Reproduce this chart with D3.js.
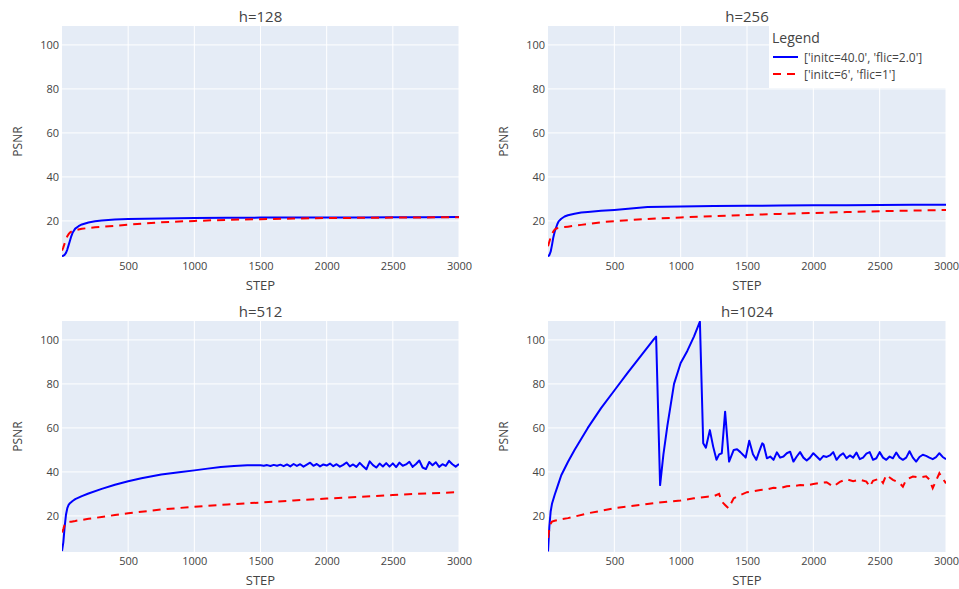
<!DOCTYPE html>
<html>
<head>
<meta charset="utf-8">
<script src="https://cdn.jsdelivr.net/npm/d3@7/dist/d3.min.js"></script>
<style>
  html, body { margin: 0; padding: 0; background: #fff; }
  svg { display: block; font-family: "Open Sans", "DejaVu Sans", Arial, sans-serif; }
</style>
</head>
<body>
<svg id="chart" width="959" height="589"></svg>
<script>
// ---------- DATA ----------
const titles = ["h=128", "h=256", "h=512", "h=1024"];
const seriesNames = ["['initc=40.0', 'flic=2.0']", "['initc=6', 'flic=1']"];
const xTicks = [500, 1000, 1500, 2000, 2500, 3000];
const yTicks = [20, 40, 60, 80, 100];

const stepsA = [0, 10, 20, 30, 40, 50, 60, 70, 80, 100, 125, 150, 200, 250, 300, 400, 500, 750, 1000, 1250, 1500, 1750, 2000, 2250, 2500, 2750, 3000];

const blue128 = [3.8, 4.2, 4.6, 5.5, 7, 9, 11, 13, 14.6, 16.5, 17.6, 18.4, 19.3, 19.8, 20.2, 20.6, 20.9, 21.1, 21.3, 21.4, 21.5, 21.5, 21.6, 21.6, 21.7, 21.7, 21.8];
const red128 = [6.5, 8, 9.8, 11.5, 13, 14, 14.7, 15.1, 15.4, 15.8, 16.1, 16.4, 16.8, 17.1, 17.3, 17.8, 18.3, 19.4, 20, 20.5, 20.8, 21.1, 21.3, 21.4, 21.5, 21.6, 21.7];

const blue256 = [3.8, 4.5, 6, 9, 12.5, 15, 16.8, 18.5, 19.8, 21, 22, 22.6, 23.3, 23.8, 24.1, 24.6, 25, 26.3, 26.6, 26.8, 26.9, 27, 27.1, 27.1, 27.2, 27.3, 27.3];
const red256 = [8.5, 10.5, 12.5, 14, 15.2, 16, 16.5, 16.7, 16.8, 17, 17.2, 17.4, 17.8, 18.2, 18.6, 19.4, 19.9, 20.9, 21.6, 22.2, 22.7, 23.2, 23.6, 24, 24.4, 24.7, 25];

const red512 = [12.5, 14, 16, 16.8, 17, 17.2, 17.3, 17.4, 17.5, 17.7, 18, 18.2, 18.7, 19.1, 19.5, 20.4, 21.2, 22.9, 24.2, 25.2, 26.1, 27, 27.9, 28.7, 29.5, 30.2, 30.8];

const stepsB = [0, 10, 20, 30, 40, 50, 60, 80, 100, 150, 200, 300, 400, 500, 600, 750, 900, 1000, 1100, 1200, 1300, 1400, 1500,
  1525, 1550, 1575, 1600, 1625, 1650, 1675, 1700, 1725, 1750, 1775, 1800, 1825, 1850, 1875, 1900, 1925, 1950, 1975, 2000,
  2025, 2050, 2075, 2100, 2125, 2150, 2175, 2200, 2225, 2250, 2275, 2300, 2325, 2350, 2375, 2400, 2425, 2450, 2475, 2500,
  2525, 2550, 2575, 2600, 2625, 2650, 2675, 2700, 2725, 2750, 2775, 2800, 2825, 2850, 2875, 2900, 2925, 2950, 2975, 3000];
const blue512 = [4, 8, 15, 20.5, 23.5, 25, 25.8, 26.8, 27.6, 29, 30.2, 32.3, 34.2, 35.8, 37.1, 38.8, 40, 40.7, 41.5, 42.2, 42.7, 43, 43,
  42.8, 43.1, 42.7, 43.2, 42.8, 43.3, 42.6, 43.4, 42.5, 43.6, 42.7, 43.5, 42.4, 43.3, 44.2, 42.8, 43.6, 42.5, 43.4, 42.9,
  43.8, 42.6, 43.5, 42.4, 43.2, 44.3, 42.5, 43.4, 42.3, 44.1, 42.6, 41.2, 44.8, 43.1, 42.0, 43.8, 42.5, 44.0, 42.4, 43.9,
  42.2, 44.2, 42.8, 43.4, 44.6, 42.3, 43.6, 45.2, 42.0, 41.3, 44.5, 43.0, 44.4, 42.3, 43.5, 42.7, 45.0, 43.5, 42.4, 43.6];

const stepsC = [0, 10, 20, 30, 50, 75, 100, 150, 200, 250, 300, 400, 500, 600, 700, 800, 815, 845, 870, 900, 950, 1000, 1050, 1100, 1145,
  1170, 1190, 1220, 1245, 1270, 1290, 1310, 1335, 1365, 1400, 1425, 1450, 1475, 1490, 1517, 1545, 1570, 1590, 1615,
  1625, 1650, 1675, 1700, 1725, 1750, 1775, 1800, 1825, 1850, 1875, 1900, 1925, 1950, 1975, 2000,
  2025, 2050, 2075, 2100, 2125, 2150, 2175, 2200, 2225, 2250, 2275, 2300, 2325, 2350, 2375, 2400, 2425, 2450, 2475, 2500,
  2525, 2550, 2575, 2600, 2625, 2650, 2675, 2700, 2725, 2750, 2775, 2800, 2825, 2850, 2875, 2900, 2925, 2950, 2975, 3000];
const blue1024 = [3.8, 15, 22, 25.5, 29.5, 34, 38.5, 44.5, 50, 55, 60, 69, 77, 85, 92.7, 100.5, 101.5, 34, 48, 61, 80, 89.5, 95, 101.5, 108.3,
  53, 51, 59, 51.5, 45.5, 48, 48.5, 67.4, 44.7, 50, 50.3, 49, 47.5, 46.5, 54.2, 48, 45.5, 49, 53,
  52.5, 46.2, 47, 45.5, 48.9, 46.5, 47, 48.5, 49.2, 44.7, 47, 49, 46.5, 45.2, 46.5, 48.5,
  47, 45.5, 47.2, 46.8, 47.5, 49, 45.5, 47.4, 48.5, 46.2, 47.5, 46.5, 48.8, 45.8, 46.5, 48.3, 49, 45.5, 46.2, 49,
  46.5, 45.5, 47, 46.2, 48.8, 46.5, 45.5, 46.5, 49.4, 46.5, 44.7, 46.8, 47.8, 47.3, 46.5, 45.8, 46.7, 48.5, 46.8, 45.8];

const stepsD = [0, 10, 20, 30, 50, 100, 150, 200, 300, 400, 500, 600, 700, 800, 900, 1000, 1100, 1200, 1250, 1290, 1310, 1335, 1360, 1400, 1450, 1500,
  1550, 1600, 1650, 1700, 1750, 1800, 1850, 1900, 1950, 2000, 2050, 2100, 2150, 2200, 2250, 2300, 2350, 2400, 2425, 2450, 2500,
  2525, 2550, 2600, 2650, 2675, 2700, 2750, 2800, 2850, 2875, 2900, 2925, 2950, 2975, 3000];
const red1024 = [10, 14, 16.5, 17.4, 17.8, 18.5, 19, 19.7, 21.2, 22.3, 23.5, 24.3, 25, 25.8, 26.5, 27, 28, 28.7, 29, 30, 26.5, 25, 23.5, 28, 29.5, 30.8,
  31.2, 31.8, 32, 32.8, 32.6, 33.5, 33.6, 34, 33.9, 34.5, 35, 35.3, 33.3, 35.5, 36.7, 35.8, 36.5, 35.6, 33.3, 36, 37,
  35, 38.6, 36.4, 35, 33.3, 36.5, 37.9, 37.5, 38, 36.5, 32.6, 36, 39.4, 37, 34.8];

// ---------- LAYOUT ----------
const W = 959, H = 589;
const colX = [[62, 459], [548, 946]];
const rowY = [[26, 257], [321, 552]];
const yDomain = [3.6, 108.6];
const xDomain = [0, 3000];
const textColor = "#444";
const blueColor = "#0000ff";
const redColor = "#ff0000";

const panels = [
  { title: titles[0], bx: stepsA, by: blue128, rx: stepsA, ry: red128 },
  { title: titles[1], bx: stepsA, by: blue256, rx: stepsA, ry: red256 },
  { title: titles[2], bx: stepsB, by: blue512, rx: stepsA, ry: red512 },
  { title: titles[3], bx: stepsC, by: blue1024, rx: stepsD, ry: red1024 }
];

const svg = d3.select("#chart");
svg.append("rect").attr("width", W).attr("height", H).attr("fill", "#fff");
const defs = svg.append("defs");

panels.forEach((p, i) => {
  const c = i % 2, r = Math.floor(i / 2);
  const [x0, x1] = colX[c];
  const [y0, y1] = rowY[r];
  const x = d3.scaleLinear().domain(xDomain).range([x0, x1]);
  const y = d3.scaleLinear().domain(yDomain).range([y1, y0]);
  const g = svg.append("g");

  g.append("rect").attr("x", x0).attr("y", y0).attr("width", x1 - x0).attr("height", y1 - y0).attr("fill", "#E5ECF6");

  // grid
  g.append("g").selectAll("line").data(xTicks).join("line")
    .attr("x1", d => x(d)).attr("x2", d => x(d)).attr("y1", y0).attr("y2", y1)
    .attr("stroke", "#fff").attr("stroke-width", 1);
  g.append("g").selectAll("line").data(yTicks).join("line")
    .attr("x1", x0).attr("x2", x1).attr("y1", d => y(d)).attr("y2", d => y(d))
    .attr("stroke", "#fff").attr("stroke-width", 1);

  // axes
  const xAxis = g.append("g").attr("transform", `translate(0,${y1})`)
    .call(d3.axisBottom(x).tickValues(xTicks).tickSize(0).tickPadding(5).tickFormat(d3.format("d")));
  xAxis.select(".domain").remove();
  xAxis.selectAll("text").attr("fill", textColor).style("font-size", "11px").style("font-family", "'Open Sans', sans-serif");

  const yAxis = g.append("g").attr("transform", `translate(${x0},0)`)
    .call(d3.axisLeft(y).tickValues(yTicks).tickSize(0).tickPadding(3).tickFormat(d3.format("d")));
  yAxis.select(".domain").remove();
  yAxis.selectAll("text").attr("fill", textColor).style("font-size", "11px").style("font-family", "'Open Sans', sans-serif");

  // titles
  g.append("text").attr("x", (x0 + x1) / 2).attr("y", y0 - 4).attr("text-anchor", "middle")
    .attr("fill", textColor).style("font-size", "15px").text(p.title);
  g.append("text").attr("x", (x0 + x1) / 2).attr("y", y1 + 33).attr("text-anchor", "middle")
    .attr("fill", textColor).style("font-size", "13px").text("STEP");
  g.append("text").attr("transform", `translate(${x0 - 40},${(y0 + y1) / 2}) rotate(-90)`)
    .attr("text-anchor", "middle").attr("fill", textColor).style("font-size", "12px").text("PSNR");

  // clip
  const cid = "clip" + i;
  defs.append("clipPath").attr("id", cid).append("rect")
    .attr("x", x0).attr("y", y0).attr("width", x1 - x0).attr("height", y1 - y0);

  const line = d3.line().x(d => x(d[0])).y(d => y(d[1]));
  const gl = g.append("g").attr("clip-path", `url(#${cid})`);
  gl.append("path").datum(p.bx.map((s, k) => [s, p.by[k]]))
    .attr("d", line).attr("fill", "none").attr("stroke", blueColor).attr("stroke-width", 2)
    .attr("stroke-linejoin", "round");
  gl.append("path").datum(p.rx.map((s, k) => [s, p.ry[k]]))
    .attr("d", line).attr("fill", "none").attr("stroke", redColor).attr("stroke-width", 2)
    .attr("stroke-dasharray", "8,6");
});

// legend (in panel h=256, top-right)
const lg = svg.append("g");
const lx0 = 769, ly0 = 26;
lg.append("rect").attr("x", lx0).attr("y", ly0).attr("width", colX[1][1] - lx0).attr("height", 62).attr("fill", "#fff");
lg.append("text").attr("x", lx0 + 3).attr("y", ly0 + 17).attr("fill", textColor).style("font-size", "14px").text("Legend");
const legItems = [
  { name: seriesNames[0], color: blueColor, dash: null },
  { name: seriesNames[1], color: redColor, dash: "8,6" }
];
legItems.forEach((it, k) => {
  const yy = ly0 + 31 + k * 17;
  lg.append("line").attr("x1", lx0 + 4).attr("x2", lx0 + 29).attr("y1", yy).attr("y2", yy)
    .attr("stroke", it.color).attr("stroke-width", 2).attr("stroke-dasharray", it.dash);
  lg.append("text").attr("x", lx0 + 35).attr("y", yy + 4.5).attr("fill", textColor)
    .style("font-size", "12px").text(it.name);
});
</script>
</body>
</html>
